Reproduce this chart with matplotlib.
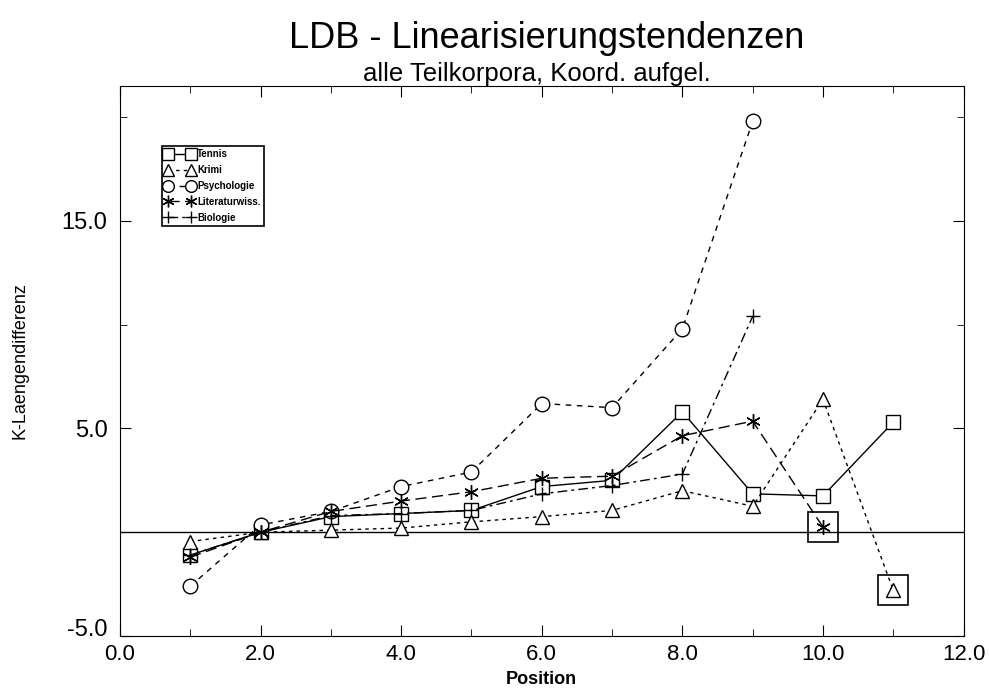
import matplotlib.pyplot as plt
from matplotlib.ticker import MultipleLocator, FixedLocator

plt.rcParams['font.family'] = ['Liberation Sans', 'DejaVu Sans']

# data
tennis_x = [1, 2, 3, 4, 5, 6, 7, 8, 9, 10, 11]
tennis_y = [-1.1, 0.0, 0.75, 0.9, 1.05, 2.2, 2.5, 5.8, 1.85, 1.75, 5.3]
krimi_x = [1, 2, 3, 4, 5, 6, 7, 8, 9, 10, 11]
krimi_y = [-0.45, 0.0, 0.1, 0.2, 0.5, 0.75, 1.05, 2.0, 1.25, 6.4, -2.8]
psych_x = [1, 2, 3, 4, 5, 6, 7, 8, 9]
psych_y = [-2.6, 0.35, 1.0, 2.2, 2.9, 6.2, 6.0, 9.8, 19.8]
lit_x = [1, 2, 3, 4, 5, 6, 7, 8, 9, 10]
lit_y = [-1.2, 0.0, 1.0, 1.5, 1.95, 2.6, 2.7, 4.65, 5.35, 0.25]
bio_x = [1, 2, 3, 4, 5, 6, 7, 8, 9]
bio_y = [-1.1, 0.0, 0.8, 0.9, 1.05, 1.85, 2.25, 2.8, 10.4]

# highlighted points (big boxes)
box_x = [10, 11]
box_y = [0.25, -2.8]

fig = plt.figure(figsize=(9.89, 6.91), dpi=100)
ax = fig.add_axes([0.1213, 0.0796, 0.853, 0.796])

ax.axhline(0, color='black', lw=1.0, zorder=1)

mk = dict(color='black', mfc='white', mec='black', mew=1.0, ms=10.5, lw=1.0)
ax.plot(tennis_x, tennis_y, marker='s', ls='-', label='Tennis', **mk)
ax.plot(krimi_x, krimi_y, marker='^', ls=(0, (2.5, 3)), label='Krimi', **mk)
ax.plot(psych_x, psych_y, marker='o', ls=(0, (4, 4)), label='Psychologie', **mk)
ax.plot(lit_x, lit_y, marker=(6, 2, 0), ls=(0, (8, 4)), label='Literaturwiss.', **mk)
ax.plot(bio_x, bio_y, marker='+', ls=(0, (7, 3, 2, 3)), label='Biologie', **mk)
ax.plot(box_x, box_y, marker='s', ls='none', color='black', mfc='none', mec='black',
        mew=1.2, ms=22)

ax.set_xlim(0, 12)
ax.set_ylim(-5, 21.5)
ax.xaxis.set_major_locator(MultipleLocator(2))
ax.xaxis.set_minor_locator(MultipleLocator(1))
ax.yaxis.set_major_locator(FixedLocator([-5, 5, 15]))
ax.yaxis.set_minor_locator(FixedLocator([0, 10, 20]))
ax.xaxis.set_major_formatter(lambda v, p: f'{v:.1f}')
ax.yaxis.set_major_formatter(lambda v, p: f'{v:.1f}')
ax.tick_params(which='both', direction='in', top=True, right=True)
ax.tick_params(axis='x', labelsize=16, pad=6)
ax.tick_params(axis='y', labelsize=17, pad=9)
ax.tick_params(which='major', length=8)
ax.tick_params(which='minor', length=5)

ax.set_xlabel('Position', fontsize=13, fontweight='bold', labelpad=4)
ax.set_ylabel('K-Laengendifferenz', fontsize=13, labelpad=24)

fig.text(0.553, 0.945, 'LDB - Linearisierungstendenzen', ha='center', va='center', fontsize=26)
fig.text(0.543, 0.893, 'alle Teilkorpora, Koord. aufgel.', ha='center', va='center', fontsize=18.5)

leg = ax.legend(loc='upper left', bbox_to_anchor=(0.05, 0.89), numpoints=2,
                prop={'weight': 'bold', 'size': 7}, handlelength=3.0, borderpad=0.3,
                labelspacing=0.6, handletextpad=0.3, borderaxespad=0, fancybox=False,
                edgecolor='black', framealpha=1, markerscale=0.8)
leg.get_frame().set_linewidth(1.2)

# the -5.0 label sits a bit above the corner in the reference
fig.canvas.draw()
for lab in ax.get_yticklabels():
    if lab.get_text().startswith('-5'):
        lab.set_va('baseline')

fig.savefig('out.png', dpi=100)
